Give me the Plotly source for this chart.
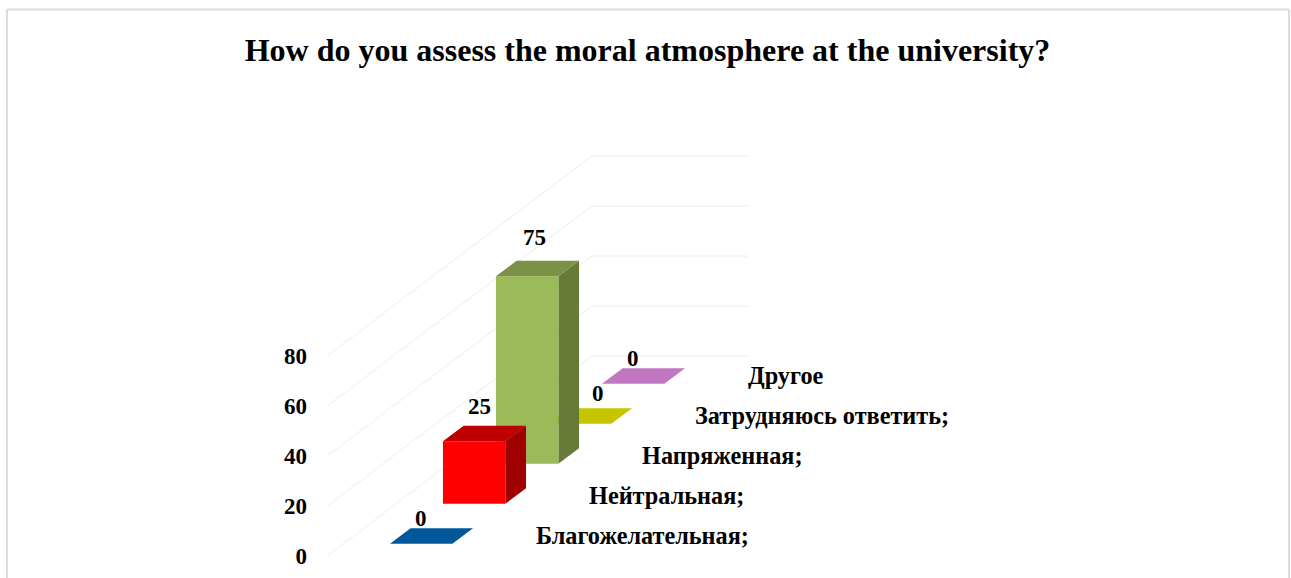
import plotly.graph_objects as go

# Survey data
title = "How do you assess the moral atmosphere at the university?"
categories = ["Благожелательная;", "Нейтральная;", "Напряженная;", "Затрудняюсь ответить;", "Другое"]
values = [0, 25, 75, 0, 0]
tick_values = [0, 20, 40, 60, 80]

# Face colours of each column: front, top, side
front_colors = ["#00589a", "#ff0000", "#9bbb59", "#c6c600", "#c277c3"]
top_colors = ["#00589a", "#c00000", "#7b9146", "#c6c600", "#c277c3"]
side_colors = ["#00589a", "#a00000", "#677a38", "#c6c600", "#c277c3"]

# Pixel shift of each value label from the centre of its column top
label_shift_x = [-11, -5, -3, 7, -11]
label_shift_y = [18, 27, 31, 23, 18]

# Oblique projection: one depth step moves right and up, lateral runs across the floor
WIDTH, HEIGHT = 1291, 578
PLOT_LEFT = 327          # left edge of the walls
ZERO_ROW = 556           # row of the value-zero corner
PX_PER_VALUE = 2.5
PX_PER_LATERAL = 156
DEPTH_PX_X = 53
DEPTH_PX_Y = 40
BAR_LATERAL = (0.30, 0.70)
BAR_DEPTH = (0.305, 0.695)
FONT = "Liberation Serif"
TEXT_SIZE = 23
CATEGORY_SIZE = 24.25


def project(depth, lateral, value):
    x = lateral + depth * DEPTH_PX_X / PX_PER_LATERAL
    y = value + depth * DEPTH_PX_Y / PX_PER_VALUE
    return x, y


def face(corners, color):
    pts = [project(*c) for c in corners]
    pts.append(pts[0])
    return go.Scatter(
        x=[p[0] for p in pts], y=[p[1] for p in pts],
        mode="lines", fill="toself", fillcolor=color,
        line=dict(width=0, color=color), hoverinfo="skip", showlegend=False,
    )


fig = go.Figure()

# Wall gridlines: along the side wall, then across the back wall
n = len(categories)
for tick in tick_values:
    pts = [project(0, 0, tick), project(n, 0, tick), project(n, 1, tick)]
    fig.add_trace(go.Scatter(
        x=[p[0] for p in pts], y=[p[1] for p in pts], mode="lines",
        line=dict(color="#ececec", width=1), hoverinfo="skip", showlegend=False,
    ))

# Columns are painted from the back row to the front row
l0, l1 = BAR_LATERAL
for i in reversed(range(n)):
    d0, d1 = i + BAR_DEPTH[0], i + BAR_DEPTH[1]
    v = values[i]
    if v > 0:
        fig.add_trace(face([(d0, l1, 0), (d1, l1, 0), (d1, l1, v), (d0, l1, v)], side_colors[i]))
        fig.add_trace(face([(d0, l0, 0), (d0, l1, 0), (d0, l1, v), (d0, l0, v)], front_colors[i]))
    fig.add_trace(face([(d0, l0, v), (d0, l1, v), (d1, l1, v), (d1, l0, v)], top_colors[i]))

# Category names sit just below the floor line, stepping back with depth
label_pts = [project(i + 0.5, 1.17, -0.8) for i in range(n)]
fig.add_trace(go.Scatter(
    x=[p[0] for p in label_pts], y=[p[1] for p in label_pts],
    mode="text", text=[f"<b>{c}</b>" for c in categories], textposition="middle right",
    textfont=dict(family=FONT, size=CATEGORY_SIZE, color="#000000"),
    hoverinfo="skip", showlegend=False, cliponaxis=False,
))

# Value labels above each column
annotations = []
for i, v in enumerate(values):
    x, y = project(i + 0.5, 0.5, v)
    annotations.append(dict(
        x=x, y=y, xref="x", yref="y", text=f"<b>{v}</b>", showarrow=False,
        xshift=label_shift_x[i], yshift=label_shift_y[i],
        xanchor="center", yanchor="middle",
        font=dict(family=FONT, size=TEXT_SIZE, color="#000000"),
    ))

# Chart frame, open at the bottom edge of the page
plot_w = WIDTH - PLOT_LEFT
frame_left = (7 - PLOT_LEFT) / plot_w
frame_right = (1289 - PLOT_LEFT) / plot_w
frame_top = 1 - 9.5 / HEIGHT
frame = dict(color="#dcdcdc", width=2)
shapes = [
    dict(type="line", xref="paper", yref="paper", x0=frame_left, x1=frame_left, y0=-0.01, y1=frame_top, line=frame),
    dict(type="line", xref="paper", yref="paper", x0=frame_right, x1=frame_right, y0=-0.01, y1=frame_top, line=frame),
    dict(type="line", xref="paper", yref="paper", x0=frame_left, x1=frame_right, y0=frame_top, y1=frame_top, line=frame),
]

fig.update_layout(
    width=WIDTH, height=HEIGHT,
    margin=dict(l=PLOT_LEFT, r=0, t=0, b=0, pad=0),
    paper_bgcolor="white", plot_bgcolor="rgba(0,0,0,0)",
    showlegend=False,
    title=dict(
        text=f"<b>{title}</b>", x=647.5 / WIDTH, xref="container", xanchor="center",
        y=1 - 50 / HEIGHT, yref="container", yanchor="middle",
        font=dict(family=FONT, size=32, color="#000000"),
    ),
    xaxis=dict(visible=False, range=[0, plot_w / PX_PER_LATERAL], fixedrange=True),
    yaxis=dict(
        range=[(ZERO_ROW - HEIGHT) / PX_PER_VALUE, ZERO_ROW / PX_PER_VALUE],
        tickmode="array", tickvals=tick_values, ticktext=[f"<b>{t}</b>" for t in tick_values],
        tickfont=dict(family=FONT, size=TEXT_SIZE, color="#000000"),
        showgrid=False, zeroline=False, showline=False, ticks="", ticklabelstandoff=19,
        fixedrange=True,
    ),
    annotations=annotations, shapes=shapes,
)

fig.write_html("out.html", config={"displayModeBar": False})
